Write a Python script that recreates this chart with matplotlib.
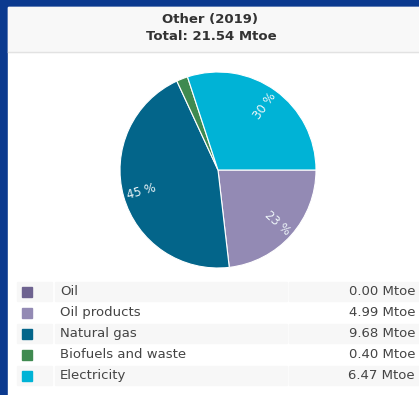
import matplotlib.pyplot as plt
from matplotlib.patches import Rectangle

categories = ['Oil', 'Oil products', 'Natural gas', 'Biofuels and waste', 'Electricity']
values = [0.00, 4.99, 9.68, 0.40, 6.47]
colors = ['#6e6390', '#938ab4', '#03658a', '#3f8a50', '#00b3d6']
title = 'Other (2019)'
unit = 'Mtoe'

W, H = 419, 395
fig = plt.figure(figsize=(W / 100, H / 100), dpi=100)
fig.patch.set_facecolor('#0b3a8f')

# background layer in pixel coordinates
bg = fig.add_axes([0, 0, 1, 1])
bg.set_xlim(0, W)
bg.set_ylim(H, 0)
bg.axis('off')
bg.add_patch(Rectangle((8, 7), W - 8, H - 7, color='white', zorder=0))
bg.add_patch(Rectangle((8, 7), W - 8, 45, color='#f8f8f8', zorder=1))
bg.plot([8, W], [52, 52], color='#e2e2e2', lw=1, zorder=2)

total = sum(values)
bg.text(210, 20, title, ha='center', va='center', fontsize=9.5,
        fontweight='bold', color='#333333')
bg.text(211, 37, f'Total: {total:.2f} {unit}', ha='center', va='center',
        fontsize=9.5, fontweight='bold', color='#333333')

# legend table
row_top = 282
row_h = 21
for i, (cat, val, col) in enumerate(zip(categories, values, colors)):
    y0 = row_top + i * row_h
    yc = y0 + row_h / 2 - 1
    if i % 2 == 0:
        for x0, x1 in [(17, 52), (55, 287), (289, W)]:
            bg.add_patch(Rectangle((x0, y0), x1 - x0, row_h - 2,
                                   color='#f7f7f7', zorder=1))
    bg.add_patch(Rectangle((22, yc - 5), 10, 10, color=col, zorder=3))
    bg.text(60, yc, cat, ha='left', va='center', fontsize=9.5, color='#444444')
    bg.text(415, yc, f'{val:.2f} {unit}', ha='right', va='center',
            fontsize=9.5, color='#444444')

# pie
cx, cy, r = 218, 170, 98
ax = fig.add_axes([(cx - r) / W, 1 - (cy + r) / H, 2 * r / W, 2 * r / H])
ax.set_facecolor('none')


def pct_label(p):
    return f'{p:.0f} %' if p >= 5 else ''


wedges, _, autotexts = ax.pie(values, colors=colors, startangle=0,
                              counterclock=False, autopct=pct_label,
                              pctdistance=0.81, radius=1,
                              wedgeprops=dict(edgecolor='white', linewidth=0.8),
                              textprops=dict(color='#eef6f9', fontsize=8.5))
for w, t in zip(wedges, autotexts):
    ang = (w.theta1 + w.theta2) / 2
    rot = ang % 360
    if 90 < rot < 270:
        rot -= 180
    t.set_rotation(rot)
    t.set_rotation_mode('anchor')
    t.set_ha('center')
    t.set_va('center')
ax.set_xlim(-1, 1)
ax.set_ylim(-1, 1)
ax.set_aspect('equal')

fig.savefig('out.png', dpi=100, facecolor=fig.get_facecolor())
